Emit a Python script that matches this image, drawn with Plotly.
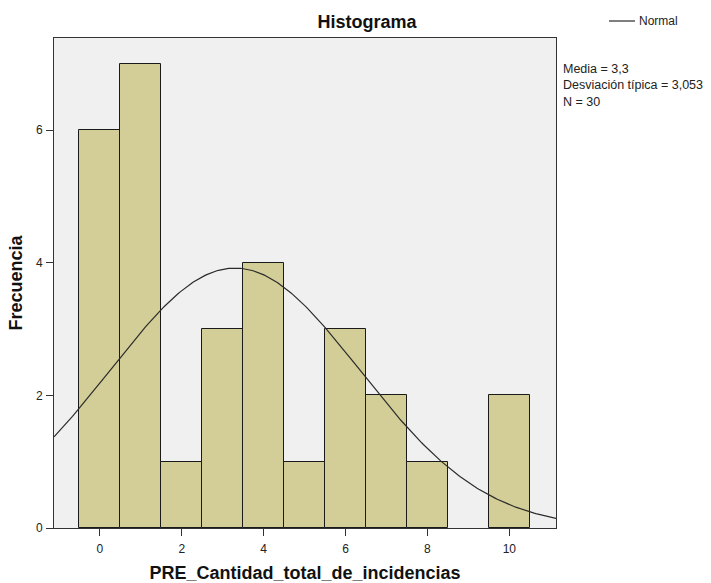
import numpy as np
import plotly.graph_objects as go

# Data
values = [0, 1, 2, 3, 4, 5, 6, 7, 8, 9, 10]
freqs = [6, 7, 1, 3, 4, 1, 3, 2, 1, 0, 2]
mean = 3.3
sd = 3.053
n = 30
x_ticks = [0, 2, 4, 6, 8, 10]
y_ticks = [0, 2, 4, 6]
stats_lines = ["Media = 3,3", "Desviación típica = 3,053", f"N = {n}"]

x_range = [-1.12, 11.14]
y_range = [0, 7.39]

W, H = 711, 583
L, R, T, B = 54, 155, 38, 55
PW, PH = W - L - R, H - T - B

def px_x(px):
    return (px - L) / PW

def px_y(py):
    return 1 - (py - T) / PH

fig = go.Figure()
nz_x = [v for v, f in zip(values, freqs) if f > 0]
nz_y = [f for f in freqs if f > 0]
fig.add_trace(go.Bar(
    x=nz_x, y=nz_y, width=1.0,
    marker=dict(color="#D3CE97", line=dict(color="#1a1a1a", width=1)),
    showlegend=False, hoverinfo="x+y"))

xs = np.linspace(x_range[0], x_range[1], 300)
ys = n * 1.0 / (sd * np.sqrt(2 * np.pi)) * np.exp(-0.5 * ((xs - mean) / sd) ** 2)
fig.add_trace(go.Scatter(x=xs, y=ys, mode="lines", name="Normal",
                         line=dict(color="#2b2b2b", width=1.2), showlegend=False))

font = "Liberation Sans, Arial, sans-serif"
fig.update_layout(
    width=W, height=H,
    margin=dict(l=L, r=R, t=T, b=B, autoexpand=False),
    paper_bgcolor="white", plot_bgcolor="#F0F0F0",
    bargap=0,
    font=dict(family=font, size=12, color="#222"),
    title=dict(text="<b>Histograma</b>", x=367 / W, xanchor="center",
               y=1 - 22 / H, yanchor="middle", font=dict(size=18, color="#111")),
    xaxis=dict(range=x_range, tickvals=x_ticks, ticks="outside", ticklen=7,
               tickcolor="#333", showgrid=False, zeroline=False,
               showline=True, linecolor="#333", mirror=True, ticklabelstandoff=3,
               title=dict(text="<b>PRE_Cantidad_total_de_incidencias</b>",
                          font=dict(size=18, color="#111"), standoff=10)),
    yaxis=dict(range=y_range, tickvals=y_ticks, ticks="outside", ticklen=7,
               tickcolor="#333", showgrid=False, zeroline=False,
               showline=True, linecolor="#333", mirror=True, ticklabelstandoff=1,
               title=dict(text="<b>Frecuencia</b>",
                          font=dict(size=18, color="#111"), standoff=8)),
    showlegend=False,
)

# Legend (manual)
fig.add_shape(type="line", xref="paper", yref="paper",
              x0=px_x(609), x1=px_x(635), y0=px_y(21), y1=px_y(21),
              line=dict(color="#2b2b2b", width=1.2))
fig.add_annotation(x=px_x(637), y=px_y(21), xref="paper", yref="paper",
                   xanchor="left", yanchor="middle", showarrow=False,
                   text="Normal", font=dict(size=12, color="#222"))

fig.add_annotation(
    x=px_x(561), y=px_y(85), xref="paper", yref="paper",
    xanchor="left", yanchor="middle", align="left", showarrow=False,
    text="<br>".join(stats_lines), font=dict(size=12.5, color="#222"))

fig.write_html("out.html")
